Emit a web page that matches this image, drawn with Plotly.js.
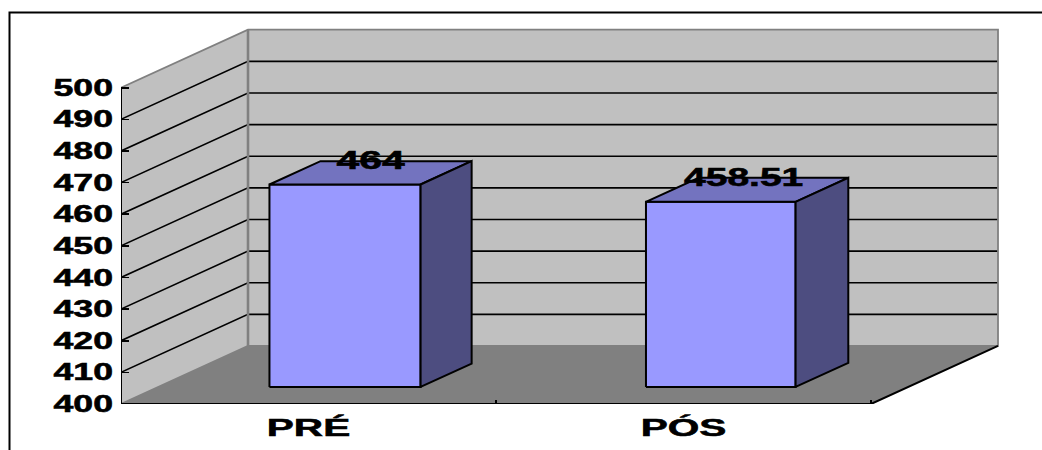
<!DOCTYPE html>
<html>
<head>
<meta charset="utf-8">
<script src="https://cdn.plot.ly/plotly-3.0.1.min.js"></script>
<style>
html,body{margin:0;padding:0;background:#fff}
/* Heavy display weight for every label */
.ytick text,.xtick text,.textpoint text{stroke:#000;stroke-width:0.55px;paint-order:stroke}
</style>
</head>
<body>
<div id="chart" style="width:1042px;height:450px"></div>
<script>
// Chart content
const categories = ['PRÉ', 'PÓS'];
const values = [464, 458.51];
const valueLabels = ['464', '458.51'];
const yTicks = [400, 410, 420, 430, 440, 450, 460, 470, 480, 490, 500];

// Scale of the front plane, in pixels per axis unit
const PX_X = 375, PX_Y = 3.16;
const LEFT = 121, BOTTOM_Y = 403.7, TOP_Y = 24, RIGHT = 1002;
const W = 1042, H = 450;

// Oblique depth vector of the 3D box, in axis units
const DEPTH_X = 127 / PX_X, DEPTH_Y = 58 / PX_Y;
const YMIN = 400, YMAX = 500, NCAT = categories.length;

// Bar footprint: left and right edges in category units, depth as a share of the floor
const barLeft = [0.296, 1.30], barRight = [0.699, 1.699];
const barNear = 0.295, barFar = [0.697, 0.71];

// Projects (category x, value, depth share) onto the flat plot axes
const px = (x, d) => x + d * DEPTH_X;
const py = (v, d) => v + d * DEPTH_Y;

function poly(points, fill, lineColor, lineWidth) {
  const xs = points.map(p => px(p[0], p[2]));
  const ys = points.map(p => py(p[1], p[2]));
  const closed = !!fill;
  if (closed) { xs.push(xs[0]); ys.push(ys[0]); }
  return {
    type: 'scatter', mode: 'lines', x: xs, y: ys, cliponaxis: false,
    fill: closed ? 'toself' : 'none', fillcolor: fill || undefined,
    line: { color: lineColor, width: lineWidth, simplify: false },
    hoverinfo: 'skip', showlegend: false
  };
}

const traces = [];
const WALL = '#C0C0C0', FLOOR = '#808080', EDGE = '#808080', INK = '#000000';

// Side wall, back wall and their gridlines
traces.push(poly([[0, YMIN, 0], [0, YMAX, 0], [0, YMAX, 1], [0, YMIN, 1]], WALL, WALL, 0));
traces.push(poly([[0, YMIN, 1], [0, YMAX, 1], [NCAT, YMAX, 1], [NCAT, YMIN, 1]], WALL, WALL, 0));
yTicks.slice(1, -1).forEach(v => {
  traces.push(poly([[0, v, 0], [0, v, 1], [NCAT, v, 1]], null, INK, 1.6));
});

// Floor
traces.push(poly([[0, YMIN, 0], [NCAT, YMIN, 0], [NCAT, YMIN, 1], [0, YMIN, 1]], FLOOR, FLOOR, 0));

// Wall outlines in mid grey
traces.push(poly([[0, YMAX, 0], [0, YMAX, 1], [NCAT, YMAX, 1], [NCAT, YMIN, 1], [0, YMIN, 1], [0, YMIN, 0]], null, EDGE, 1.8));
traces.push(poly([[0, YMAX, 1], [0, YMIN, 1]], null, EDGE, 2.6));

// Front axis lines and the right floor edge
traces.push(poly([[0, YMAX, 0], [0, YMIN, 0], [NCAT, YMIN, 0], [NCAT, YMIN, 1]], null, INK, 2));

// Each bar is three visible faces of a box
values.forEach((v, i) => {
  const l = barLeft[i], r = barRight[i], f = barFar[i];
  traces.push(poly([[l, YMIN, barNear], [l, v, barNear], [r, v, barNear], [r, YMIN, barNear]], '#9999FF', INK, 2));
  traces.push(poly([[l, v, barNear], [l, v, f], [r, v, f], [r, v, barNear]], '#7373BF', INK, 2));
  traces.push(poly([[r, YMIN, barNear], [r, v, barNear], [r, v, f], [r, YMIN, f]], '#4D4D80', INK, 2));
});

// Value labels, anchored just under the middle of each bar's top face
const labelDepth = 0.5 * (barNear + barFar[0]);
const labelDrop = 0.7;
traces.push({
  type: 'scatter', mode: 'text',
  x: values.map((v, i) => px((barLeft[i] + barRight[i]) / 2, labelDepth) - (i ? 0.007 : 0)),
  y: values.map(v => py(v, labelDepth) - labelDrop),
  text: valueLabels, textposition: 'top center',
  textfont: { family: '"Liberation Sans", Arial, sans-serif', size: 25.5, color: INK, weight: 'bold' },
  hoverinfo: 'skip', showlegend: false, cliponaxis: false
});

const layout = {
  width: W, height: H, autosize: false,
  margin: { l: LEFT, r: W - RIGHT, t: TOP_Y, b: H - BOTTOM_Y, pad: 0 },
  paper_bgcolor: '#fff', plot_bgcolor: '#fff', showlegend: false,
  xaxis: {
    range: [0, (RIGHT - LEFT) / PX_X], showgrid: false, zeroline: false, showline: false,
    tickmode: 'array', tickvals: categories.map((c, i) => i + 0.5), ticktext: categories,
    ticks: '', ticklabelstandoff: 7,
    tickfont: { family: '"Liberation Sans", Arial, sans-serif', size: 24, color: INK, weight: 'bold' },
    minor: { tickmode: 'array', tickvals: [1, 2], ticks: 'inside', ticklen: 4, tickwidth: 1.6, tickcolor: INK, showgrid: false }
  },
  yaxis: {
    range: [YMIN, YMIN + (BOTTOM_Y - TOP_Y) / PX_Y], showgrid: false, zeroline: false, showline: false,
    tickmode: 'array', tickvals: yTicks, ticktext: yTicks.map(String),
    ticks: 'inside', ticklen: 8, tickwidth: 1.6, tickcolor: INK, ticklabelstandoff: 7,
    tickfont: { family: '"Liberation Sans", Arial, sans-serif', size: 23, color: INK, weight: 'bold' }
  },
  // Chart-area frame: only the top and left sides fall inside the page
  shapes: [{
    type: 'path', xref: 'paper', yref: 'paper',
    path: (() => {
      const fx = p => (p - LEFT) / (RIGHT - LEFT);
      const fy = p => (BOTTOM_Y - p) / (BOTTOM_Y - TOP_Y);
      return `M ${fx(9.5)} ${fy(452)} L ${fx(9.5)} ${fy(12.5)} L ${fx(1044)} ${fy(12.5)}`;
    })(),
    line: { color: INK, width: 2 }, layer: 'below'
  }]
};

// The labels use a wide, extended bold: stretch the glyphs horizontally
function widen(selector, factors) {
  document.querySelectorAll(selector).forEach((t, i) => {
    const f = Array.isArray(factors) ? factors[i] : factors;
    t.setAttribute('textLength', (t.getComputedTextLength() * f).toFixed(1));
    t.setAttribute('lengthAdjust', 'spacingAndGlyphs');
  });
}

Plotly.newPlot('chart', traces, layout, { displayModeBar: false, staticPlot: true }).then(() => {
  widen('.ytick text', 1.55);
  widen('.xtick text', 1.69);
  widen('.textpoint text', [1.6, 1.53]);
});
</script>
</body>
</html>
